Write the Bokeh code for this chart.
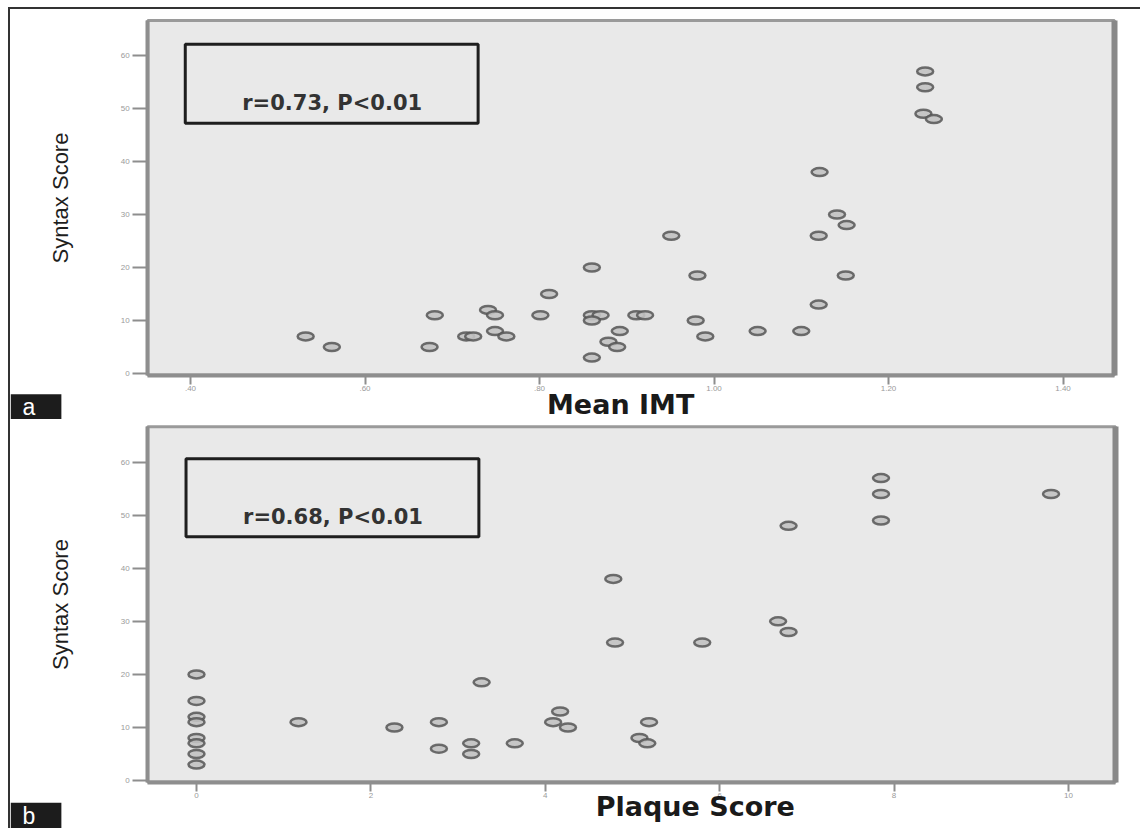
from bokeh.plotting import figure
from bokeh.models import Label, LinearAxis, FixedTicker, Range1d, BoxAnnotation
from bokeh.layouts import column
from bokeh.embed import file_html
from bokeh.resources import INLINE

# ---- data ----
imt_x = [0.532, 0.562, 0.674, 0.680, 0.716, 0.724, 0.741, 0.749, 0.749, 0.762,
         0.801, 0.811, 0.860, 0.860, 0.870, 0.860, 0.860, 0.879, 0.889, 0.892,
         0.911, 0.921, 0.951, 0.979, 0.981, 0.990, 1.050, 1.100, 1.120, 1.120,
         1.121, 1.141, 1.152, 1.151, 1.240, 1.252, 1.242, 1.242]
imt_syntax = [7, 5, 5, 11, 7, 7, 12, 11, 8, 7,
              11, 15, 20, 11, 11, 10, 3, 6, 5, 8,
              11, 11, 26, 10, 18.5, 7, 8, 8, 13, 26,
              38, 30, 28, 18.5, 49, 48, 54, 57]

plaque_x = [0, 0, 0, 0, 0, 0, 0, 0,
            1.17, 2.27, 2.78, 2.78, 3.15, 3.15, 3.27, 3.65, 4.09, 4.17,
            4.26, 4.78, 4.80, 5.19, 5.08, 5.17, 5.80, 6.67, 6.79, 6.79,
            7.85, 7.85, 7.85, 9.80]
plaque_syntax = [20, 15, 12, 11, 8, 7, 5, 3,
                 11, 10, 11, 6, 7, 5, 18.5, 7, 11, 13,
                 10, 38, 26, 11, 8, 7, 26, 30, 28, 48,
                 57, 54, 49, 54]

syntax_ticks = [0, 10, 20, 30, 40, 50, 60]
imt_ticks = [0.4, 0.6, 0.8, 1.0, 1.2, 1.4]
imt_tick_labels = [".40", ".60", ".80", "1.00", "1.20", "1.40"]
plaque_ticks = [0, 2, 4, 6, 8, 10]
plaque_tick_labels = ["0", "2", "4", "6", "8", "10"]

panel_letters = ["a", "b"]
stat_texts = ["r=0.73, P<0.01", "r=0.68, P<0.01"]
x_titles = ["Mean IMT", "Plaque Score"]
y_title = "Syntax Score"

BG = "#e9e9e9"
AX = "#8e8e8e"


def make_panel(xs, ys, view_x, view_y, area_x, area_y, xticks, xlabels, height,
               letter, stat, xtitle, letter_pos, stat_pos, stat_pad, title_pos):
    p = figure(width=1130, height=height, x_range=Range1d(*view_x),
               y_range=Range1d(*view_y), output_backend="svg",
               toolbar_location=None, tools="", min_border=0,
               background_fill_color="white", border_fill_color="white",
               outline_line_color=None)
    p.grid.visible = False

    # plot area (grey panel with frame)
    p.add_layout(BoxAnnotation(left=area_x[0], right=area_x[1],
                               bottom=area_y[0], top=area_y[1],
                               fill_color=BG, fill_alpha=1.0,
                               line_color="#9a9a9a", line_alpha=1.0,
                               line_width=3, level="underlay"))

    xa = p.xaxis[0]
    xa.fixed_location = area_y[0]
    xa.bounds = area_x
    xa.ticker = FixedTicker(ticks=xticks)
    xa.major_label_overrides = {float(t): l for t, l in zip(xticks, xlabels)}
    xa.axis_line_color = AX
    xa.axis_line_width = 4
    xa.major_tick_line_color = AX
    xa.major_tick_line_width = 2
    xa.major_tick_in = 0
    xa.major_tick_out = 9
    xa.minor_tick_line_color = None
    xa.major_label_text_font_size = "8px"
    xa.major_label_text_color = "#9a9a9a"
    xa.major_label_standoff = 2

    ya = p.yaxis[0]
    ya.fixed_location = area_x[0]
    ya.bounds = area_y
    ya.ticker = FixedTicker(ticks=syntax_ticks)
    ya.axis_line_color = AX
    ya.axis_line_width = 4
    ya.major_tick_line_color = AX
    ya.major_tick_line_width = 2
    ya.major_tick_in = 0
    ya.major_tick_out = 15
    ya.minor_tick_line_color = None
    ya.major_label_text_font_size = "8px"
    ya.major_label_text_color = "#9a9a9a"
    ya.major_label_standoff = 3
    ya.axis_label = y_title
    ya.axis_label_text_font = "Liberation Sans"
    ya.axis_label_text_font_size = "22px"
    ya.axis_label_text_font_style = "normal"
    ya.axis_label_text_color = "#1e1e1e"
    ya.axis_label_standoff = 45

    ra = LinearAxis(fixed_location=area_x[1], bounds=area_y,
                    ticker=FixedTicker(ticks=[]),
                    axis_line_color="#888888", axis_line_width=6,
                    major_tick_line_color=None, minor_tick_line_color=None)
    p.add_layout(ra, "right")

    p.ellipse(xs, ys, width=16, height=8, width_units="screen",
              height_units="screen", fill_color="#c2c2c2",
              line_color="#565656", line_width=2.5, fill_alpha=0.9,
              line_alpha=0.85)

    # statistics box (padding order: left, right, top, bottom)
    p.add_layout(Label(x=stat_pos[0], y=stat_pos[1], text=stat,
                       anchor="top_left", text_font="DejaVu Sans",
                       text_font_style="bold", text_font_size="21px",
                       text_color="#333333",
                       border_line_color="#1e1e1e", border_line_width=3,
                       padding=stat_pad))

    p.add_layout(Label(x=title_pos[0], y=title_pos[1], text=xtitle,
                       anchor="top_center", text_font="DejaVu Sans",
                       text_font_style="bold", text_font_size="27px",
                       text_color="#1a1a1a"))

    p.add_layout(Label(x=letter_pos[0], y=letter_pos[1], text=letter,
                       anchor="top_left", text_font="Liberation Sans",
                       text_font_size="23px", text_color="white",
                       background_fill_color="#1c1c1c",
                       padding=(12, 26, 0, 0)))
    return p


top = make_panel(imt_x, imt_syntax,
                 view_x=(0.1937, 1.4888), view_y=(-8.679, 68.679),
                 area_x=(0.351, 1.459), area_y=(-0.3, 66.6),
                 xticks=imt_ticks, xlabels=imt_tick_labels, height=410,
                 letter=panel_letters[0], stat=stat_texts[0],
                 xtitle=x_titles[0],
                 letter_pos=(0.1938, -3.9), stat_pos=(0.394, 62.1),
                 stat_pad=(57, 56, 47, 8), title_pos=(0.893, -2.9))

bottom = make_panel(plaque_x, plaque_syntax,
                    view_x=(-2.133, 10.826), view_y=(-9.048, 68.05),
                    area_x=(-0.56, 10.54), area_y=(-0.3, 66.7),
                    xticks=plaque_ticks, xlabels=plaque_tick_labels, height=409,
                    letter=panel_letters[1], stat=stat_texts[1],
                    xtitle=x_titles[1],
                    letter_pos=(-2.132, -4.2), stat_pos=(-0.12, 60.64),
                    stat_pad=(57, 56, 46, 8), title_pos=(5.72, -2.0))

layout = column(top, bottom, margin=(7, 0, 0, 8),
                styles={"border-top": "2px solid #333333",
                        "border-left": "2px solid #333333"})

open("out.html", "w").write(file_html(layout, INLINE))
